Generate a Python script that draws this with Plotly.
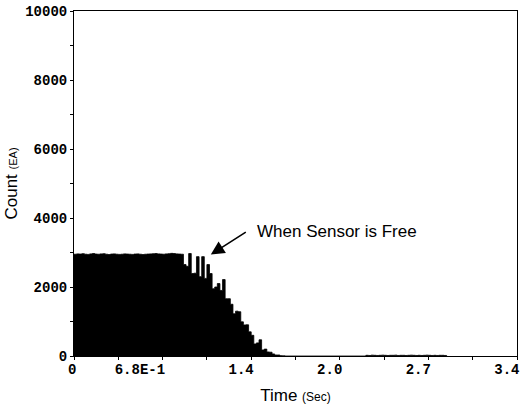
import numpy as np
import plotly.graph_objects as go

# ---- data ----
bin_width = 0.02  # seconds

# flat plateau, bins starting at t = 0.00
flat_start = 0.0
counts_flat = [2950, 2960, 2955, 2965, 2950, 2945, 2960, 2970, 2955, 2950,
               2960, 2965, 2950, 2940, 2955, 2960, 2950, 2945, 2950, 2960,
               2955, 2950, 2945, 2955, 2960, 2950, 2940, 2950, 2955, 2960,
               2965, 2970, 2960, 2955, 2950, 2960, 2965, 2975, 2970, 2960,
               2955, 2950]

# falling part, bins starting at t = 0.84
fall_start = 0.84
counts_fall = [2650, 2600, 2970, 2390, 2400, 2880, 2300, 2880, 2250, 2650,
               2390, 1950, 2000, 2100, 1900, 2215, 1660, 1660, 1500, 1224,
               1300, 1283, 990, 900, 904, 700, 600, 350, 380, 470,
               175, 200, 117, 110, 60, 30, 30, 10, 5]

# faint tail near the baseline, bins starting at t = 2.24
tail_start = 2.24
counts_tail = [20, 15, 25, 20, 15, 20, 25, 20, 15, 20, 20, 25, 15, 20, 20,
               15, 20, 25, 20, 15, 20, 15, 20, 25, 20, 15, 20, 15, 20, 20, 15]

x_tickvals = [0, 0.68, 1.36, 2.04, 2.72, 3.4]
x_ticktext = ["0", "6.8E-1", "1.4", "2.0", "2.7", "3.4"]
y_tickvals = [0, 2000, 4000, 6000, 8000, 10000]
y_ticktext = ["0", "2000", "4000", "6000", "8000", "10000"]

annot_text = "When Sensor is Free"

# ---- build: histogram drawn as a filled step outline (no gaps) ----
def edges(start, vals):
    return list(start + bin_width * np.arange(len(vals) + 1))

xs, ys = [], []
for start, vals in ((flat_start, counts_flat + counts_fall), (tail_start, counts_tail)):
    e = edges(start, vals)
    xs += e
    ys += list(vals) + [0]

fig = go.Figure()
fig.add_trace(go.Scatter(x=xs, y=ys, mode="lines", line_shape="hv",
                         line=dict(color="black", width=0.8),
                         fill="tozeroy", fillcolor="black", hoverinfo="skip"))

tickfont = dict(family="Liberation Mono", size=14, color="black", weight="bold")

fig.update_layout(
    width=521, height=417,
    margin=dict(l=74, r=1, t=11, b=61),
    paper_bgcolor="white", plot_bgcolor="white",
    showlegend=False,
    font=dict(family="Liberation Sans, Arial", color="black"),
)
fig.update_xaxes(
    range=[0, 3.4], tickvals=x_tickvals, ticktext=x_ticktext,
    tickfont=tickfont, showgrid=False, zeroline=False,
    showline=True, linecolor="black", linewidth=1, mirror=True,
    ticklabelposition="outside left", ticklabelshift=3,
    ticklabeloverflow="allow",
    ticks="", minor=dict(dtick=0.34, tick0=0, ticks="outside", ticklen=3,
                         tickcolor="black", showgrid=False),
    title=dict(text="Time <span style='font-size:12px'>(Sec)</span>",
               font=dict(size=17, color="black"), standoff=12),
)
fig.update_yaxes(
    range=[0, 10000], tickvals=y_tickvals, ticktext=y_ticktext,
    tickfont=tickfont, showgrid=False, zeroline=False,
    showline=True, linecolor="black", linewidth=1, mirror=True,
    ticks="outside", ticklen=3, tickcolor="black",
    minor=dict(dtick=1000, tick0=0, ticks="outside", ticklen=3,
               tickcolor="black", showgrid=False),
    title=dict(text="Count <span style='font-size:11px'>(EA)</span>",
               font=dict(size=17, color="black"), standoff=3),
)

fig.add_annotation(x=1.05, y=2940, ax=1.33, ay=3620, xref="x", yref="y",
                   axref="x", ayref="y", text="", showarrow=True,
                   arrowhead=2, arrowsize=1.7, arrowwidth=1.6, arrowcolor="black")
fig.add_annotation(x=1.39, y=3600, xref="x", yref="y", text=annot_text,
                   showarrow=False, xanchor="left", yanchor="middle",
                   font=dict(family="Liberation Sans, Arial", size=17, color="black"))

fig.write_html("out.html")
